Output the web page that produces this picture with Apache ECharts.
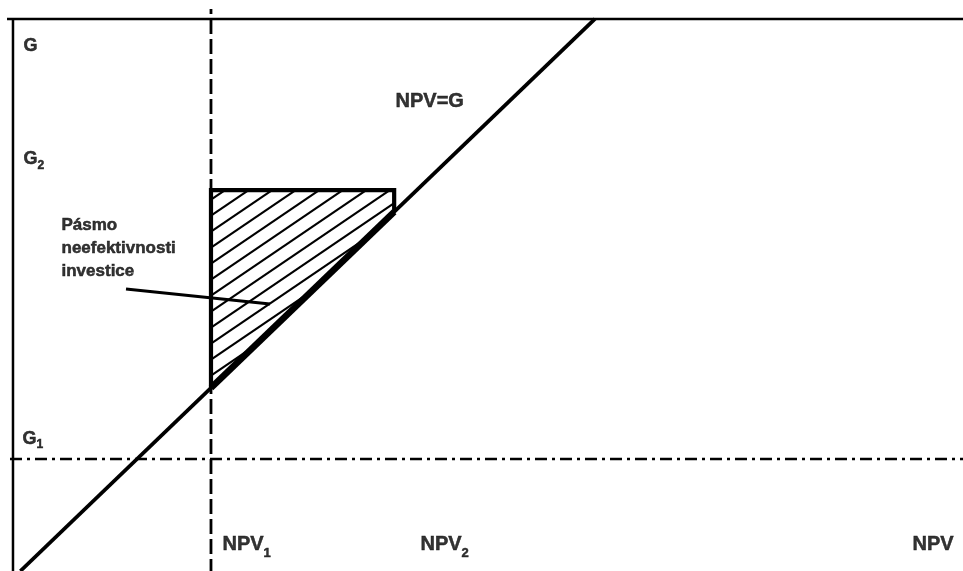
<!DOCTYPE html>
<html>
<head>
<meta charset="utf-8">
<script src="https://cdn.jsdelivr.net/npm/echarts@6/dist/echarts.min.js"></script>
<style>
html,body{margin:0;padding:0;background:#fff;}
#chart{width:963px;height:571px;}
</style>
</head>
<body>
<div id="chart"></div>
<script>
// ---- data (abstract units: NPV on x, G on y) ----
const npvExtent = [-3.55, 164.05];
const gExtent = [0, 103.44];
const frameTop = [[-2.33, 100], [164.05, 100]];
const gAxis = [[-1.29, 0], [-1.29, 100]];
const npvLevels = [33.17, 65.05];          // NPV1, NPV2
const gLevels = [20.3, 69.0];              // G1, G2
const npv1Span = [0, 101.8];               // vertical extent of NPV1 guide
const g1Span = [-1.81, 164.05];            // horizontal extent of G1 guide
const breakEven = [[0, 0], [100, 100]];    // NPV = G
const leader = [[18.38, 51.09], [43.44, 48.37]];
const labelTexts = [
  '{g|G}',
  '{g|G}{gs|2}',
  '{g|G}{gs|1}',
  '{n|NPV}{ns|1}',
  '{n|NPV}{ns|2}',
  '{n|NPV}',
  '{n|NPV=G}',
  '{t|Pásmo}\n{t|neefektivnosti}\n{t|investice}'
];
const labelAnchors = [
  [0.63, 94.93], [0.63, 74.46], [0.45, 23.9],
  [35.26, 4.71], [69.72, 4.71], [155.34, 4.71],
  [65.37, 84.96], [7.24, 58.33]
];

const NPV1 = npvLevels[0], NPV2 = npvLevels[1], G1 = gLevels[0], G2 = gLevels[1];
const band = [[NPV1, NPV1], [NPV1, G2], [NPV2, G2], [NPV2, NPV2]];
const font = '"Liberation Sans", Arial, sans-serif';

function seg(data, width, type, dashOffset) {
  return {
    type: 'line', data: data, symbol: 'none', silent: true, animation: false,
    lineStyle: {color: '#000', width: width, type: type || 'solid', dashOffset: dashOffset || 0, cap: 'butt', join: 'miter'}
  };
}
function rs(size, lh, extra) {
  return Object.assign({fontFamily: font, fontWeight: 'bold', fontSize: size, lineHeight: lh, color: '#000',
    textBorderColor: '#000', textBorderWidth: 0.5}, extra || {});
}

const chart = echarts.init(document.getElementById('chart'));
chart.setOption({
  backgroundColor: '#fff',
  animation: false,
  grid: {left: 0, right: 0, top: 0, bottom: 0},
  xAxis: {type: 'value', min: npvExtent[0], max: npvExtent[1], show: false},
  yAxis: {type: 'value', min: gExtent[0], max: gExtent[1], show: false},
  series: [
    seg(frameTop, 2.5),
    seg(gAxis, 2.5),
    seg([[NPV1, npv1Span[1]], [NPV1, npv1Span[0]]], 2.8, [15, 5], 10),
    seg([[g1Span[0], G1], [g1Span[1], G1]], 2.6, [12, 5, 3, 5]),
    {
      type: 'custom', coordinateSystem: 'cartesian2d', silent: true, animation: false,
      data: [[NPV1, G2]],
      renderItem: function (params, api) {
        const poly = band.map(p => api.coord(p));
        const m = 0.68, step = 16;
        const cs = poly.map(p => p[1] + m * p[0]);
        const cmin = Math.min.apply(null, cs), cmax = Math.max.apply(null, cs);
        const children = [];
        for (let c = cmin + step * 0.6; c < cmax; c += step) {
          const pts = [];
          for (let i = 0; i < poly.length; i++) {
            const a = poly[i], b = poly[(i + 1) % poly.length];
            const fa = a[1] + m * a[0] - c, fb = b[1] + m * b[0] - c;
            if ((fa <= 0 && fb > 0) || (fa > 0 && fb <= 0)) {
              const t = fa / (fa - fb);
              pts.push([a[0] + t * (b[0] - a[0]), a[1] + t * (b[1] - a[1])]);
            }
          }
          if (pts.length >= 2) {
            pts.sort((p, q) => p[0] - q[0]);
            children.push({type: 'line', shape: {x1: pts[0][0], y1: pts[0][1], x2: pts[pts.length - 1][0], y2: pts[pts.length - 1][1]},
              style: {stroke: '#000', lineWidth: 2.1}});
          }
        }
        return {type: 'group', children: children};
      }
    },
    seg(breakEven, 3.8),
    seg(band, 4.2),
    seg([band[0], band[3]], 6.5),
    seg(leader, 3),
    {
      type: 'scatter', silent: true, animation: false, symbolSize: 1,
      itemStyle: {color: 'rgba(0,0,0,0)'},
      data: labelTexts.map((t, i) => ({value: labelAnchors[i], label: {formatter: t}})),
      label: {
        show: true, position: [0, 0], align: 'left', verticalAlign: 'middle',
        color: '#000', fontFamily: font, fontWeight: 'bold',
        rich: {
          n: rs(20, 30),
          ns: rs(13, 13, {verticalAlign: 'bottom'}),
          g: rs(18, 24),
          gs: rs(12, 12, {verticalAlign: 'bottom'}),
          t: rs(17, 23)
        }
      }
    }
  ]
});
</script>
</body>
</html>
